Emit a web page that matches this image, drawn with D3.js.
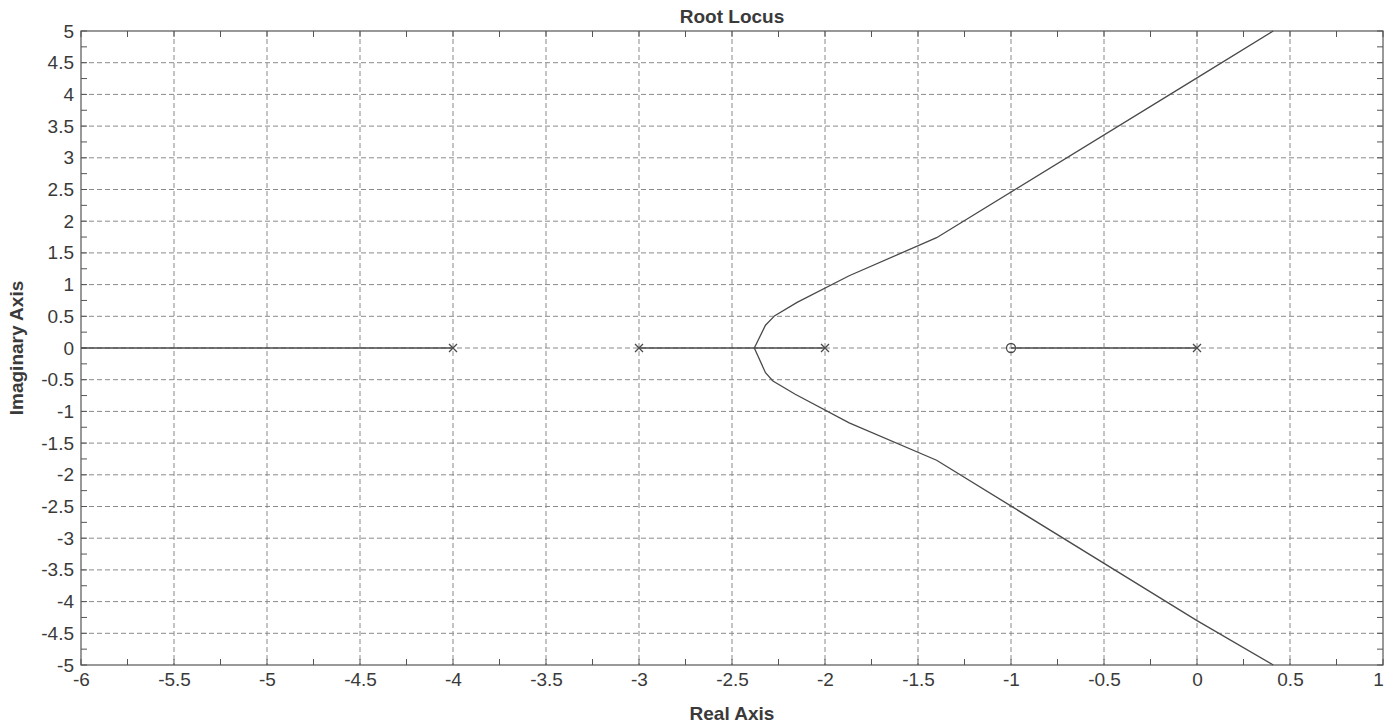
<!DOCTYPE html>
<html>
<head>
<meta charset="utf-8">
<script src="https://cdn.jsdelivr.net/npm/d3@7"></script>
<style>
  body { margin: 0; background: #fff; }
  text { font-family: "Liberation Sans", Arial, sans-serif; fill: #3a3a3a; }
</style>
</head>
<body>
<div id="chart"></div>
<script>
// tick values
var xTicks = d3.range(-6, 1.001, 0.5);
var yTicks = d3.range(-5, 5.001, 0.5);

// open-loop poles and zero
var poles = [0, -2, -3, -4];
var zeros = [-1];

// real-axis parts of the locus
var realSegments = [[-6, -4], [-3, -2], [-1, 0]];

// complex branches
var upperBranch = [
    [-2.38, 0], [-2.32, 0.36], [-2.27, 0.51], [-2.15, 0.72],
    [-1.87, 1.14], [-1.40, 1.74], [0, 4.26], [0.41, 5]
];
var lowerBranch = [
    [-2.38, 0], [-2.32, -0.39], [-2.28, -0.52], [-2.16, -0.73],
    [-1.87, -1.18], [-1.40, -1.77], [0, -4.30], [0.41, -5]
];

var W = 1385, H = 728;
var margin = { top: 31, right: 2, bottom: 63, left: 81 };
var width = W - margin.left - margin.right;
var height = H - margin.top - margin.bottom;

var svg = d3.select("#chart").append("svg")
    .attr("width", W)
    .attr("height", H);

var g = svg.append("g")
    .attr("transform", "translate(" + margin.left + "," + margin.top + ")");

var x = d3.scaleLinear().domain([-6, 1]).range([0, width]);
var y = d3.scaleLinear().domain([-5, 5]).range([height, 0]);

// plain hyphen for negatives, like the original
var fmt = function(d) { return String(+d.toFixed(2)); };

// grid
g.append("g").selectAll("line")
    .data(xTicks.slice(1, -1))
    .enter().append("line")
    .attr("x1", function(d) { return x(d); })
    .attr("x2", function(d) { return x(d); })
    .attr("y1", 0).attr("y2", height)
    .attr("stroke", "#8a8a8a").attr("stroke-width", 1)
    .attr("stroke-dasharray", "5,3");

g.append("g").selectAll("line")
    .data(yTicks.slice(1, -1))
    .enter().append("line")
    .attr("y1", function(d) { return y(d); })
    .attr("y2", function(d) { return y(d); })
    .attr("x1", 0).attr("x2", width)
    .attr("stroke", "#8a8a8a").attr("stroke-width", 1)
    .attr("stroke-dasharray", "5,3");

// axes with inward ticks on all sides
var minorX = d3.range(-6, 1.001, 0.25);
var minorY = d3.range(-5, 5.001, 0.25);

var xAxisB = d3.axisBottom(x).tickValues(xTicks).tickSize(0).tickPadding(8).tickFormat(fmt);
var yAxisL = d3.axisLeft(y).tickValues(yTicks).tickSize(0).tickPadding(7).tickFormat(fmt);

var gx = g.append("g")
    .attr("transform", "translate(0," + height + ")")
    .call(xAxisB);
var gy = g.append("g").call(yAxisL);

[gx, gy].forEach(function(a) {
    a.select(".domain").remove();
    a.selectAll("text")
        .style("font-size", "19px")
        .attr("fill", "#3a3a3a");
});
// last x label sits against the right edge
gx.selectAll(".tick").filter(function(d) { return d === 1; })
    .select("text").attr("dx", "-5");

var tickLen = 6;
var ticks = g.append("g").attr("stroke", "#555").attr("stroke-width", 1);
minorX.forEach(function(d) {
    ticks.append("line").attr("x1", x(d)).attr("x2", x(d)).attr("y1", height).attr("y2", height - tickLen);
    ticks.append("line").attr("x1", x(d)).attr("x2", x(d)).attr("y1", 0).attr("y2", tickLen);
});
minorY.forEach(function(d) {
    ticks.append("line").attr("y1", y(d)).attr("y2", y(d)).attr("x1", 0).attr("x2", tickLen);
    ticks.append("line").attr("y1", y(d)).attr("y2", y(d)).attr("x1", width).attr("x2", width - tickLen);
});

// frame
g.append("rect")
    .attr("width", width).attr("height", height)
    .attr("fill", "none").attr("stroke", "#555").attr("stroke-width", 1.2);

// locus
var line = d3.line()
    .x(function(d) { return x(d[0]); })
    .y(function(d) { return y(d[1]); });

var locus = g.append("g")
    .attr("fill", "none").attr("stroke", "#4a4a4a").attr("stroke-width", 1.3);

realSegments.forEach(function(s) {
    locus.append("path").attr("d", line([[s[0], 0], [s[1], 0]]));
});
locus.append("path").attr("d", line(upperBranch));
locus.append("path").attr("d", line(lowerBranch));

// poles (x) and zero (o)
var m = 4;
poles.forEach(function(p) {
    var px = x(p), py = y(0);
    locus.append("path")
        .attr("d", "M" + (px - m) + "," + (py - m) + "L" + (px + m) + "," + (py + m) +
                   "M" + (px - m) + "," + (py + m) + "L" + (px + m) + "," + (py - m));
});
zeros.forEach(function(z) {
    locus.append("circle").attr("cx", x(z)).attr("cy", y(0)).attr("r", 4.5);
});

// titles
svg.append("text")
    .attr("x", margin.left + width / 2).attr("y", 23)
    .attr("text-anchor", "middle")
    .style("font-size", "19px").style("font-weight", "bold")
    .text("Root Locus");

svg.append("text")
    .attr("x", margin.left + width / 2).attr("y", 720)
    .attr("text-anchor", "middle")
    .style("font-size", "19px").style("font-weight", "bold")
    .text("Real Axis");

svg.append("text")
    .attr("transform", "translate(23," + (margin.top + height / 2) + ") rotate(-90)")
    .attr("text-anchor", "middle")
    .style("font-size", "19px").style("font-weight", "bold")
    .text("Imaginary Axis");
</script>
</body>
</html>
